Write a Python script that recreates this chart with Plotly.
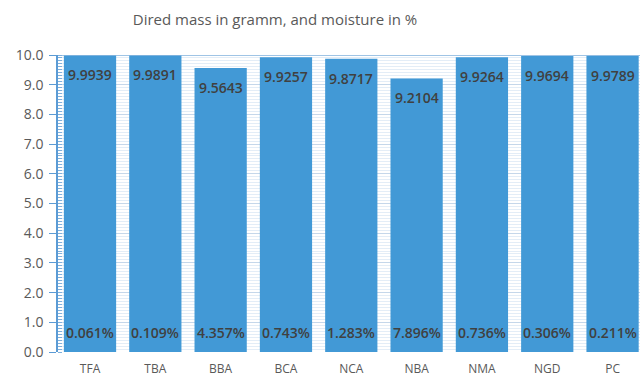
import plotly.graph_objects as go

# Samples, dried mass (g) and moisture content (%)
samples = ["TFA", "TBA", "BBA", "BCA", "NCA", "NBA", "NMA", "NGD", "PC"]
dried_mass = [9.9939, 9.9891, 9.5643, 9.9257, 9.8717, 9.2104, 9.9264, 9.9694, 9.9789]
moisture_pct = ["0.061%", "0.109%", "4.357%", "0.743%", "1.283%", "7.896%", "0.736%", "0.306%", "0.211%"]
y_ticks = [0, 1, 2, 3, 4, 5, 6, 7, 8, 9, 10]

bar_color = "#4299d6"
label_color = "#404040"
axis_text = "#595959"
label_font = dict(color=label_color, size=14, family="Open Sans", weight=600)

fig = go.Figure()
fig.add_trace(go.Bar(
    x=samples,
    y=dried_mass,
    marker=dict(color=bar_color, line=dict(width=0)),
    hoverinfo="x+y",
))

# Mass value just below the top of each bar
for s, v in zip(samples, dried_mass):
    fig.add_annotation(
        x=s, y=v, xref="x", yref="y",
        text=f"{v:.4f}", showarrow=False,
        yanchor="top", yshift=-8,
        font=label_font,
    )

# Moisture labels sit at the base of each bar
for s, m in zip(samples, moisture_pct):
    fig.add_annotation(
        x=s, y=0, xref="x", yref="y",
        text=m, showarrow=False,
        yanchor="bottom", yshift=8,
        font=label_font,
    )

# Top border of the value range
fig.add_shape(type="line", xref="paper", yref="y", x0=0, x1=1, y0=10, y1=10,
              line=dict(color="#7fb0dc", width=1.5), layer="above")

fig.update_layout(
    width=640, height=376,
    margin=dict(l=58, r=0, t=55, b=24),
    paper_bgcolor="white",
    plot_bgcolor="white",
    bargap=0.2,
    showlegend=False,
    title=dict(
        text="Dired mass in gramm, and moisture in %",
        x=275 / 640, xanchor="center",
        y=1 - 20 / 376, yanchor="middle",
        font=dict(size=15, color=axis_text, family="Open Sans"),
    ),
    xaxis=dict(
        range=[-0.49, 8.42],
        showgrid=False,
        showline=False,
        ticks="",
        ticklabelstandoff=8,
        tickfont=dict(size=12, color=axis_text, family="Open Sans"),
    ),
    yaxis=dict(
        range=[0, 10],
        tickvals=y_ticks,
        tickformat=".1f",
        showgrid=True,
        gridcolor="#c5d7ea",
        gridwidth=1,
        showline=True,
        linecolor="#5b9bd5",
        linewidth=1.5,
        ticks="outside",
        ticklen=7,
        tickcolor="#5b9bd5",
        ticklabelstandoff=3,
        tickfont=dict(size=14, color=axis_text, family="Open Sans"),
        zeroline=False,
        minor=dict(
            dtick=0.1,
            showgrid=True,
            gridcolor="#e3edf7",
            gridwidth=1,
            ticks="inside",
            ticklen=4,
            tickcolor="#7fb0dc",
        ),
    ),
)

fig.write_html("out.html")
